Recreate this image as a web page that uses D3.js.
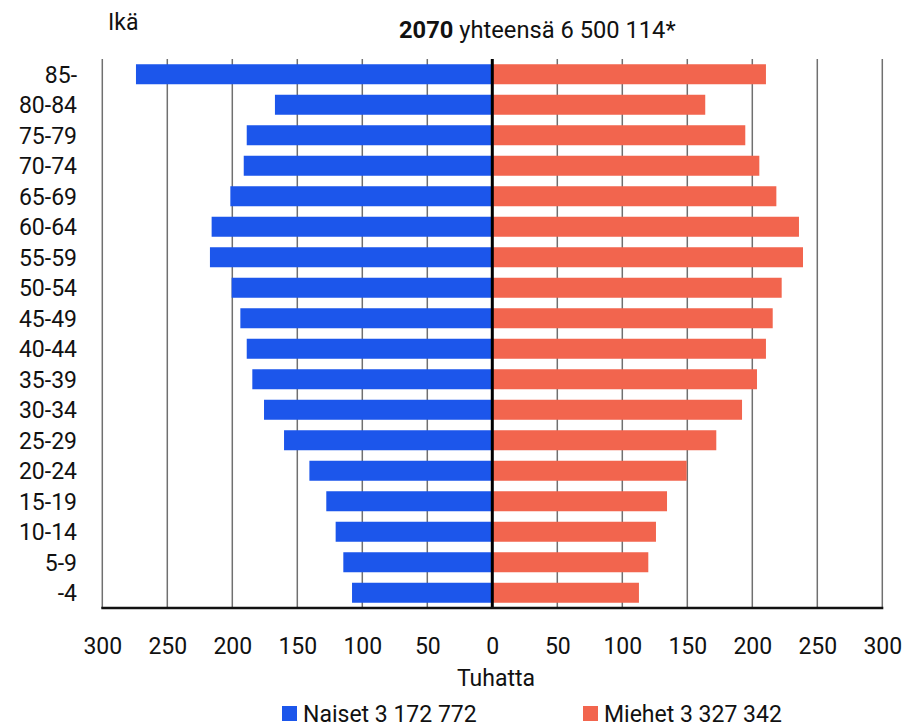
<!DOCTYPE html>
<html>
<head>
<meta charset="utf-8">
<script src="https://cdn.jsdelivr.net/npm/d3@7"></script>
<style>
  html, body { margin: 0; padding: 0; background: #fff; }
  svg { display: block; font-family: Roboto, "Noto Sans", sans-serif; }
</style>
</head>
<body>
<svg id="chart" width="908" height="727"></svg>
<script>
const ages = ["85-","80-84","75-79","70-74","65-69","60-64","55-59","50-54","45-49","40-44","35-39","30-34","25-29","20-24","15-19","10-14","5-9","-4"];
const naiset = [274.1,167.2,188.9,191.2,201.5,215.9,217.2,200.5,193.8,188.9,184.6,175.6,160.2,140.7,127.7,120.5,114.6,107.9];
const miehet = [210.5,163.8,194.6,205.4,218.5,235.9,239.0,222.6,215.7,210.5,203.6,192.1,172.3,149.5,134.4,125.9,120.0,112.8];
const xTicks = [-300,-250,-200,-150,-100,-50,0,50,100,150,200,250,300];
const seriesNames = ["Naiset 3 172 772","Miehet 3 327 342"];
const colors = ["#1c56eb","#f2654e"];

const svg = d3.select("#chart");
const x = d3.scaleLinear().domain([-300,300]).range([102.3,882.3]);
const y = d3.scaleBand().domain(ages).range([59,608]).paddingInner(0.344).paddingOuter(0.172);

// gridlines
svg.append("g").selectAll("line").data(xTicks.filter(d => d !== 0)).join("line")
  .attr("x1", d => x(d)).attr("x2", d => x(d))
  .attr("y1", 59).attr("y2", 608)
  .attr("stroke", "#707070").attr("stroke-width", 1.5);

// bars
svg.append("g").selectAll("rect").data(ages).join("rect")
  .attr("x", (d,i) => x(-naiset[i])).attr("width", (d,i) => x(0) - x(-naiset[i]))
  .attr("y", d => y(d)).attr("height", y.bandwidth())
  .attr("fill", colors[0]);
svg.append("g").selectAll("rect").data(ages).join("rect")
  .attr("x", x(0)).attr("width", (d,i) => x(miehet[i]) - x(0))
  .attr("y", d => y(d)).attr("height", y.bandwidth())
  .attr("fill", colors[1]);

// center line
svg.append("line").attr("x1", x(0)).attr("x2", x(0)).attr("y1", 59).attr("y2", 608)
  .attr("stroke", "#000").attr("stroke-width", 3);
// bottom axis line
svg.append("line").attr("x1", x(-300) - 1).attr("x2", x(300) + 1).attr("y1", 608).attr("y2", 608)
  .attr("stroke", "#111").attr("stroke-width", 2.5);

// x axis labels
const xAxis = d3.axisBottom(x).tickValues(xTicks).tickSize(0).tickPadding(0).tickFormat(d => Math.abs(d));
const gx = svg.append("g").attr("transform", "translate(0,654)").call(xAxis);
gx.select(".domain").remove();
gx.selectAll("text").attr("dy", 0).attr("y", 0)
  .attr("font-family", "Roboto, sans-serif").attr("font-size", 23).attr("fill", "#111");

// y axis labels
const yAxis = d3.axisLeft(y).tickSize(0).tickPadding(0);
const gy = svg.append("g").attr("transform", "translate(77,0)").call(yAxis);
gy.select(".domain").remove();
gy.selectAll("text").attr("font-family", "Roboto, sans-serif").attr("font-size", 23)
  .attr("fill", "#111").attr("dy", "0.36em");

// axis title
svg.append("text").attr("x", 496).attr("y", 686).attr("text-anchor", "middle")
  .attr("font-size", 23).attr("fill", "#111").text("Tuhatta");
svg.append("text").attr("x", 108).attr("y", 30)
  .attr("font-size", 23).attr("fill", "#111").text("Ikä");

// title
const t = svg.append("text").attr("x", 399).attr("y", 38).attr("font-size", 23.7).attr("fill", "#111");
t.append("tspan").attr("font-weight", "bold").text("2070");
t.append("tspan").text(" yhteensä 6 500 114*");

// legend
const legX = [282, 583];
const lg = svg.append("g").selectAll("g").data(seriesNames).join("g")
  .attr("transform", (d,i) => `translate(${legX[i]},706)`);
lg.append("rect").attr("width", 15).attr("height", 15).attr("fill", (d,i) => colors[i]);
lg.append("text").attr("x", 21).attr("y", 16).attr("font-size", 23).attr("fill", "#111").text(d => d);
</script>
</body>
</html>
